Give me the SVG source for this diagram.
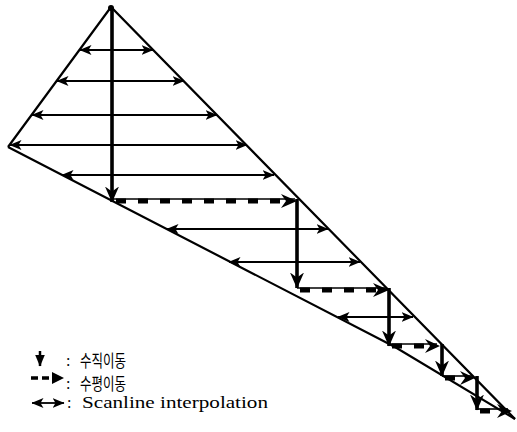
<svg xmlns="http://www.w3.org/2000/svg" width="517" height="432" viewBox="0 0 517 432">
<style>
.edge{fill:none;stroke:#000;stroke-width:2.2;stroke-linejoin:miter}
.scan{fill:none;stroke:#000;stroke-width:2;marker-start:url(#ah);marker-end:url(#ah)}
.vert{fill:none;stroke:#000;stroke-width:3.6;marker-end:url(#big)}
.dash{fill:none;stroke:#000;stroke-width:5;stroke-dasharray:10 12}
.thin{fill:none;stroke:#000;stroke-width:1.6}
.lbl{font-family:"Liberation Serif","Times New Roman",serif;font-size:16px;fill:#000}
.kr{font-family:"Noto Sans CJK KR","Noto Sans",sans-serif;font-size:17px;fill:#000}
</style>
<defs>
<marker id="ah" viewBox="0 0 12 10" refX="11.5" refY="5" markerWidth="12" markerHeight="10" markerUnits="userSpaceOnUse" orient="auto-start-reverse"><path d="M0,0 L12,5 L0,10 L3,5 Z" fill="#000"/></marker>
<marker id="big" viewBox="0 0 16 14" refX="15.5" refY="7" markerWidth="16" markerHeight="14" markerUnits="userSpaceOnUse" orient="auto"><path d="M0,0 L16,7 L0,14 L5,7 Z" fill="#000"/></marker>
<marker id="tri" viewBox="0 0 12 10" refX="11.5" refY="5" markerWidth="12" markerHeight="10" markerUnits="userSpaceOnUse" orient="auto"><path d="M0,0 L12,5 L0,10 Z" fill="#000"/></marker>
</defs>

<g id="triangle">
<polyline class="edge" points="8,147 111,7 515,419"/>
<polyline class="edge" points="8,147 395,347 515,419"/>
<circle cx="111" cy="8" r="3" fill="#000"/>
</g>

<g id="connectors">
<g id="scanlines">
<line class="scan" x1="80" y1="50" x2="153" y2="50"/>
<line class="scan" x1="57" y1="81" x2="184" y2="81"/>
<line class="scan" x1="32" y1="115" x2="217" y2="115"/>
<line class="scan" x1="10" y1="145" x2="247" y2="145"/>
<line class="scan" x1="62" y1="175" x2="274" y2="175"/>
<line class="scan" x1="167" y1="229" x2="328" y2="229"/>
<line class="scan" x1="229" y1="262" x2="360" y2="262"/>
<line class="scan" x1="338" y1="317" x2="413" y2="317"/>
</g>
<g id="staircase">
<line class="vert" x1="112" y1="8" x2="112" y2="202"/>
<line class="thin" x1="112" y1="199" x2="295" y2="199"/>
<line class="dash" x1="116" y1="201" x2="290" y2="201"/>
<path d="M281,194 L297,201 L281,208 L286,201 Z" fill="#000"/>
<line class="vert" x1="297" y1="199" x2="297" y2="288"/>
<line class="thin" x1="297" y1="288" x2="387" y2="288"/>
<line class="dash" x1="300" y1="290" x2="380" y2="290"/>
<path d="M373,283 L389,290 L373,297 L378,290 Z" fill="#000"/>
<line class="vert" x1="389" y1="288" x2="389" y2="346"/>
<line class="thin" x1="389" y1="344" x2="437" y2="344"/>
<line class="dash" x1="392" y1="346" x2="432" y2="346"/>
<path d="M425,339 L440,346 L425,353 L430,346 Z" fill="#000"/>
<line class="vert" x1="442" y1="344" x2="442" y2="376"/>
<line class="thin" x1="442" y1="376" x2="472" y2="376"/>
<line class="dash" x1="445" y1="378" x2="466" y2="378"/>
<path d="M460,371 L475,378 L460,385 L465,378 Z" fill="#000"/>
<line class="vert" x1="477" y1="376" x2="477" y2="410"/>
<line class="thin" x1="477" y1="409" x2="508" y2="409"/>
<line class="dash" x1="480" y1="411" x2="500" y2="411"/>
<path d="M497,404 L512,411 L497,418 L502,411 Z" fill="#000"/>
</g>
</g>

<g id="legend">
<g id="legend-vertical">
<line x1="40" y1="351" x2="40" y2="366" stroke="#000" stroke-width="2.5" marker-end="url(#tri)"/>
<text class="lbl" x="66" y="366">:</text>
<text class="kr" x="80" y="367" textLength="46" lengthAdjust="spacingAndGlyphs">수직이동</text>
</g>
<g id="legend-horizontal">
<line x1="31" y1="378" x2="52" y2="378" stroke="#000" stroke-width="3.5" stroke-dasharray="7 4"/>
<path d="M52,372 L64,378 L52,384 Z" fill="#000"/>
<text class="lbl" x="66" y="389">:</text>
<text class="kr" x="80" y="390" textLength="46" lengthAdjust="spacingAndGlyphs">수평이동</text>
</g>
<g id="legend-scanline">
<line x1="32" y1="403" x2="64" y2="403" stroke="#000" stroke-width="1.8" marker-start="url(#ah)" marker-end="url(#ah)"/>
<text class="lbl" x="67" y="408">:</text>
<text class="lbl" x="82" y="408" textLength="186" lengthAdjust="spacingAndGlyphs">Scanline interpolation</text>
</g>
</g>
</svg>
